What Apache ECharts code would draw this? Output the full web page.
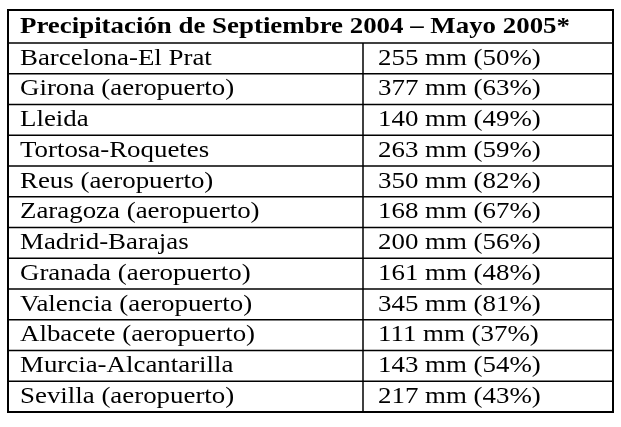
<!DOCTYPE html><html><head><meta charset="utf-8"><script src="https://cdn.jsdelivr.net/npm/echarts@6/dist/echarts.min.js"></script>
<style>html,body{margin:0;background:#fff}#c{width:621px;height:427px}</style></head><body><div id="c"></div><script>
const title = "Precipitación de Septiembre 2004 – Mayo 2005*";
const stations = ["Barcelona-El Prat","Girona (aeropuerto)","Lleida","Tortosa-Roquetes","Reus (aeropuerto)","Zaragoza (aeropuerto)","Madrid-Barajas","Granada (aeropuerto)","Valencia (aeropuerto)","Albacete (aeropuerto)","Murcia-Alcantarilla","Sevilla (aeropuerto)"];
const mm = [255,377,140,263,350,168,200,161,345,111,143,217];
const pct = [50,63,49,59,82,67,56,48,81,37,54,43];
const HDR = 33/30.75, DIV = 355/605, SX = 1.12;
const chart = echarts.init(document.getElementById('c'));
const data = [[-1]].concat(stations.map((s,i)=>[i]));
chart.setOption({
  animation:false,
  grid:{left:8,right:8,top:10,bottom:15},
  xAxis:{type:'value',min:0,max:1,show:false},
  yAxis:{type:'value',min:0,max:12+HDR,inverse:true,show:false},
  series:[{type:'custom',data:data,renderItem:function(params,api){
    const r=api.value(0);
    const font='24px "Liberation Serif", serif';
    if(r<0){
      const p0=api.coord([0,0]), p1=api.coord([1,12+HDR]), pb=api.coord([0,HDR]);
      return {type:'group',children:[
        {type:'rect',shape:{x:p0[0],y:p0[1],width:p1[0]-p0[0],height:p1[1]-p0[1]},style:{fill:null,stroke:'#000',lineWidth:2}},
        {type:'line',shape:{x1:p0[0],y1:pb[1],x2:p1[0],y2:pb[1]},style:{stroke:'#000',lineWidth:1.5}},
        {type:'text',x:p0[0]+12,y:(p0[1]+pb[1])/2,scaleX:SX,style:{text:title,font:'bold 24px "Liberation Serif", serif',fill:'#000',verticalAlign:'middle'}}
      ]};
    }
    const a=api.coord([0,HDR+r]), b=api.coord([1,HDR+r+1]), d=api.coord([DIV,0]);
    const ym=(a[1]+b[1])/2;
    return {type:'group',children:[
      {type:'line',shape:{x1:a[0],y1:b[1],x2:b[0],y2:b[1]},style:{stroke:'#000',lineWidth:1.5}},
      {type:'line',shape:{x1:d[0],y1:a[1],x2:d[0],y2:b[1]},style:{stroke:'#000',lineWidth:1.5}},
      {type:'text',x:a[0]+12,y:ym,scaleX:SX,style:{text:stations[r],font:font,fill:'#000',verticalAlign:'middle'}},
      {type:'text',x:d[0]+15,y:ym,scaleX:SX,style:{text:mm[r]+' mm ('+pct[r]+'%)',font:font,fill:'#000',verticalAlign:'middle'}}
    ]};
  }}]
});
</script></body></html>
